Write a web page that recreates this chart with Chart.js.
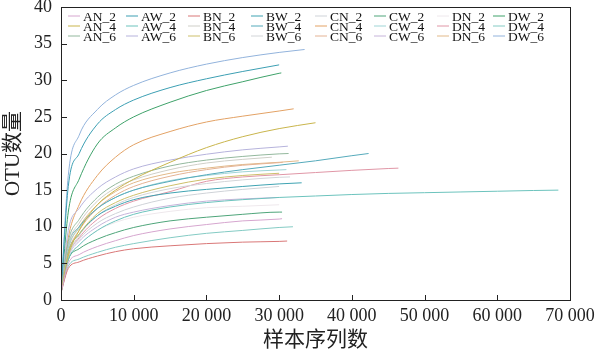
<!DOCTYPE html>
<html><head><meta charset="utf-8">
<script src="https://cdn.jsdelivr.net/npm/chart.js@4/dist/chart.umd.min.js"></script>
<style>html,body{margin:0;padding:0;background:#fff}#wrap{width:600px;height:352px;position:relative}</style>
</head><body><div id="wrap"><canvas id="c" width="600" height="352"></canvas></div>
<script>
const depths = [0, 1000, 2500, 5000, 7500, 10000, 15000, 20000, 25000, 30000, 35000, 40000, 45000, 50000, 55000, 60000, 65000];
const seriesNames = ['AN_2','AN_4','AN_6','AW_2','AW_4','AW_6','BN_2','BN_4','BN_6','BW_2','BW_4','BW_6',
                     'CN_2','CN_4','CN_6','CW_2','CW_4','CW_6','DN_2','DN_4','DN_6','DW_2','DW_4','DW_6'];
// last sampled depth of every curve
const endDepths = [30400, 35000, 31300, 30000, 68400, 31200, 31100, 29000, 30000, 33100, 42300, 31500,
                   30000, 32000, 30500, 30400, 31000, 30000, 30000, 46400, 32700, 30300, 31900, 33500];
// OTU values: one per depth below the end depth, then the value at the end depth
const AN_2 = [1, 5.0, 6.2, 7.3, 8.1, 8.8, 9.7, 10.3, 10.8, 11.05, 11.1];
const AN_4 = [1, 6.0, 9.5, 13.0, 15.0, 16.5, 18.8, 20.8, 22.3, 23.4, 24.2];
const AN_6 = [1, 8.0, 11.0, 14.0, 15.8, 16.9, 18.3, 19.1, 19.6, 19.95, 20.0];
const AW_2 = [1, 15.5, 20.0, 24.0, 26.0, 27.3, 29.0, 30.2, 31.2, 32.1];
const AW_4 = [1, 5.5, 7.5, 9.5, 10.8, 11.7, 12.7, 13.3, 13.7, 14.0, 14.2, 14.4, 14.55, 14.65, 14.75, 14.85, 14.95, 15.0];
const AW_6 = [1, 9.5, 12.5, 15.2, 16.8, 17.9, 19.1, 19.9, 20.5, 20.9, 21.0];
const BN_2 = [1, 4.3, 5.2, 6.0, 6.6, 7.0, 7.4, 7.7, 7.9, 8.0, 8.05];
const BN_4 = [1, 7.5, 10.5, 13.5, 15.3, 16.4, 17.8, 18.7, 19.2, 19.5];
const BN_6 = [1, 6.5, 9.0, 11.8, 13.3, 14.3, 15.6, 16.5, 17.0, 17.3];
const BW_2 = [1, 6.5, 9.0, 11.5, 12.8, 13.7, 14.6, 15.1, 15.5, 15.85, 16.0];
const BW_4 = [1, 7.5, 10.0, 12.5, 14.0, 15.0, 16.2, 17.1, 17.8, 18.4, 19.0, 19.7, 20.0];
const BW_6 = [1, 6.0, 8.8, 11.5, 13.0, 14.0, 15.2, 15.9, 16.4, 16.75, 16.8];
const CN_2 = [1, 6.0, 8.3, 10.5, 11.8, 12.7, 13.9, 14.6, 15.1, 15.5];
const CN_4 = [1, 8.5, 13.0, 17.0, 19.5, 21.2, 23.0, 24.3, 25.1, 25.8, 26.1];
const CN_6 = [1, 6.5, 9.5, 12.5, 14.3, 15.5, 16.9, 17.8, 18.4, 18.75, 18.8];
const CW_2 = [1, 5.5, 7.0, 8.3, 9.2, 9.9, 10.8, 11.3, 11.7, 12.0, 12.0];
const CW_4 = [1, 7.0, 9.8, 12.5, 14.0, 15.0, 16.3, 17.0, 17.5, 17.75, 17.8];
const CW_6 = [1, 5.8, 8.0, 10.0, 11.3, 12.0, 12.9, 13.5, 13.8, 14.0];
const DN_2 = [1, 5.5, 7.5, 9.5, 10.6, 11.3, 12.1, 12.6, 12.8, 13.0];
const DN_4 = [1, 6.0, 8.5, 11.0, 12.5, 13.5, 14.8, 16.2, 16.8, 17.1, 17.4, 17.7, 17.95, 18.0];
const DN_6 = [1, 7.0, 10.0, 13.0, 14.8, 16.0, 17.3, 18.0, 18.5, 18.8, 19.0];
const DW_2 = [1, 12.0, 16.5, 21.3, 23.5, 25.0, 27.0, 28.6, 29.8, 30.95, 31.0];
const DW_4 = [1, 4.6, 5.6, 6.5, 7.2, 7.7, 8.5, 9.1, 9.5, 9.9, 10.0];
const DW_6 = [1, 17.0, 22.5, 26.0, 28.0, 29.3, 31.0, 32.2, 33.1, 33.8, 34.2];
const seriesValues = [AN_2, AN_4, AN_6, AW_2, AW_4, AW_6, BN_2, BN_4, BN_6, BW_2, BW_4, BW_6,
                      CN_2, CN_4, CN_6, CW_2, CW_4, CW_6, DN_2, DN_4, DN_6, DW_2, DW_4, DW_6];
const seriesColors = ['#d6a6cf','#c9b54c','#93b89d','#3c9fb3','#6cc3bd','#b6b3dc','#d97777','#cfcfc8','#cdbf6a','#3fa3b2','#55aabb','#d2d5d8',
                      '#cfd3d8','#e3a265','#e4b394','#4ea57a','#9fd5d6','#c6b4da','#eee8ec','#e096a6','#e2b989','#3fa26a','#84cbc4','#92b3dc'];
const xTickLabels = ['0','10 000','20 000','30 000','40 000','50 000','60 000','70 000'];
const yTickLabels = ['0','5','10','15','20','25','30','35','40'];
const xTitle = '样本序列数';
const yTitle = 'OTU数量';
const legendGroups = ['AN','AW','BN','BW','CN','CW','DN','DW'];
const legendDepths = ['2','4','6'];

const datasets = seriesNames.map((name, k) => {
  const vals = seriesValues[k];
  const end = endDepths[k];
  const pts = [];
  const below = depths.filter(d => d < end);
  below.forEach((d, i) => pts.push({x: d, y: vals[i]}));
  pts.push({x: end, y: vals[vals.length - 1]});
  return {label: name, data: pts, borderColor: seriesColors[k], backgroundColor: seriesColors[k],
          borderWidth: 1, pointRadius: 0, fill: false, cubicInterpolationMode: 'monotone'};
});

const SERIF = "'Liberation Serif', 'Noto Sans CJK SC', serif";

const framePlugin = {
  id: 'frame',
  afterDatasetsDraw(chart) {
    const {ctx, chartArea: a} = chart;
    const xs = chart.scales.x, ys = chart.scales.y;
    ctx.save();
    ctx.strokeStyle = '#222';
    ctx.lineWidth = 1;
    ctx.beginPath();
    xs.ticks.forEach(t => {
      const px = Math.round(xs.getPixelForValue(t.value)) + 0.5;
      ctx.moveTo(px, a.bottom); ctx.lineTo(px, a.bottom - 5);
    });
    ys.ticks.forEach(t => {
      const py = Math.round(ys.getPixelForValue(t.value)) + 0.5;
      ctx.moveTo(a.left, py); ctx.lineTo(a.left + 6, py);
    });
    ctx.stroke();
    ctx.strokeRect(Math.round(a.left) + 0.5, Math.round(a.top) + 0.5, Math.round(a.right - a.left), Math.round(a.bottom - a.top));
    ctx.restore();
  }
};

const legendColX = [83, 141, 203, 266, 330, 389, 452, 508];
const legendRowY = [20.5, 30.5, 40.5];
const legendPlugin = {
  id: 'gridLegend',
  afterDraw(chart) {
    const ctx = chart.ctx;
    ctx.save();
    ctx.font = '13.5px ' + SERIF;
    ctx.textBaseline = 'alphabetic';
    ctx.textAlign = 'left';
    legendGroups.forEach((g, ci) => {
      legendDepths.forEach((d, ri) => {
        const name = g + '_' + d;
        const ds = chart.data.datasets.find(s => s.label === name);
        const tx = legendColX[ci], ty = legendRowY[ri];
        ctx.strokeStyle = ds.borderColor;
        ctx.lineWidth = 1;
        ctx.beginPath();
        ctx.moveTo(tx - 15, ty - 4.5); ctx.lineTo(tx - 3, ty - 4.5);
        ctx.stroke();
        ctx.fillStyle = '#111';
        ctx.fillText(name, tx, ty);
      });
    });
    ctx.restore();
  }
};

new Chart(document.getElementById('c'), {
  type: 'line',
  data: {datasets},
  options: {
    responsive: false,
    animation: false,
    devicePixelRatio: 1,
    layout: {padding: {top: 7, right: 30, left: 0, bottom: 0}},
    plugins: {legend: {display: false}, tooltip: {enabled: false}},
    scales: {
      x: {
        type: 'linear', min: 0, max: 70000,
        border: {display: false},
        grid: {display: false, drawTicks: false},
        ticks: {stepSize: 10000, padding: 5, color: '#222', maxRotation: 0, autoSkip: false,
                font: {family: SERIF, size: 18},
                callback: v => xTickLabels[Math.round(v / 10000)]},
        title: {display: true, text: xTitle, color: '#222', padding: {top: 0, bottom: 0},
                font: {family: SERIF, size: 21, lineHeight: 1.05}},
        afterFit: s => { s.height = 52; s.paddingLeft = 0; s.paddingRight = 0; }
      },
      y: {
        min: 0, max: 40,
        border: {display: false},
        grid: {display: false, drawTicks: false},
        ticks: {stepSize: 5, padding: 9, color: '#222', autoSkip: false,
                font: {family: SERIF, size: 18},
                callback: v => yTickLabels[Math.round(v / 5)]},
        title: {display: true, text: yTitle, color: '#222', padding: {top: 2, bottom: 0},
                font: {family: SERIF, size: 21, lineHeight: 1.05}},
        afterFit: s => { s.width = 61; s.paddingTop = 0; s.paddingBottom = 0; }
      }
    }
  },
  plugins: [framePlugin, legendPlugin]
});
</script>
</body></html>
